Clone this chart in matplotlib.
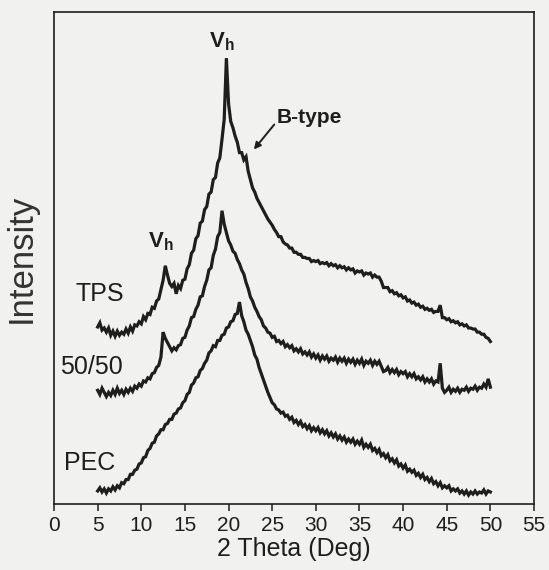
import numpy as np
import matplotlib
matplotlib.use("Agg")
import matplotlib.pyplot as plt

plt.rcParams["font.family"] = ["Liberation Sans", "DejaVu Sans"]
plt.rcParams["mathtext.fontset"] = "custom"
plt.rcParams["mathtext.rm"] = "Liberation Sans"
plt.rcParams["mathtext.bf"] = "Liberation Sans:bold"

# 2 theta scan, 5 to 50 deg, 0.25 deg step
two_theta = np.arange(5.0, 50.001, 0.25)

tps = [
    171, 175, 168, 170, 166, 170, 163, 167, 162, 167, 163, 166,
    164, 169, 165, 171, 167, 173, 172, 176, 174, 181, 178, 184,
    183, 190, 189, 196, 198, 207, 216, 230, 221, 213, 210, 213,
    203, 211, 208, 216, 217, 227, 231, 242, 245, 256, 259, 271,
    273, 284, 287, 299, 301, 313, 315, 329, 334, 352, 371, 430,
    386, 369, 363, 355, 349, 339, 339, 332, 335, 321, 313, 305,
    301, 295, 291, 287, 283, 279, 275, 272, 269, 265, 262, 258,
    258, 253, 251, 250, 247, 247, 243, 243, 241, 241, 238, 238,
    237, 237, 234, 235, 234, 235, 232, 233, 232, 233, 230, 232,
    230, 231, 228, 230, 228, 229, 226, 228, 226, 227, 223, 225,
    224, 225, 221, 223, 222, 223, 219, 221, 219, 219, 215, 209,
    209, 209, 205, 206, 203, 204, 201, 202, 199, 200, 196, 197,
    194, 195, 192, 193, 190, 191, 188, 189, 187, 188, 185, 186,
    186, 192, 180, 180, 178, 179, 176, 177, 175, 176, 173, 174,
    172, 173, 170, 170, 169, 169, 166, 166, 164, 164, 161, 160,
    157,
]

blend_50_50 = [
    110, 106, 112, 108, 104, 108, 105, 110, 106, 112, 107, 110,
    106, 111, 108, 112, 109, 114, 112, 116, 114, 119, 118, 122,
    121, 126, 127, 132, 134, 142, 166, 160, 156, 152, 148, 151,
    149, 153, 154, 160, 161, 168, 172, 180, 181, 188, 192, 200,
    201, 210, 216, 226, 228, 240, 246, 258, 262, 283, 270, 262,
    254, 250, 244, 242, 236, 232, 226, 222, 214, 208, 200, 196,
    190, 186, 181, 178, 172, 170, 166, 165, 161, 162, 157, 158,
    155, 157, 152, 154, 151, 153, 148, 150, 147, 150, 145, 147,
    144, 147, 142, 145, 141, 144, 139, 143, 140, 143, 138, 141,
    139, 142, 137, 141, 138, 141, 136, 140, 137, 140, 135, 139,
    136, 140, 134, 138, 136, 139, 134, 138, 135, 138, 133, 128,
    129, 132, 127, 130, 127, 130, 125, 128, 126, 128, 123, 126,
    123, 126, 121, 123, 120, 123, 118, 121, 118, 121, 116, 119,
    118, 136, 112, 108, 110, 113, 108, 111, 109, 112, 108, 111,
    110, 113, 109, 112, 111, 114, 110, 113, 112, 116, 113, 121,
    113,
]

pec = [
    13, 16, 12, 15, 11, 15, 13, 17, 14, 18, 16, 21,
    20, 24, 24, 29, 29, 33, 34, 39, 40, 45, 46, 52,
    54, 59, 60, 66, 68, 72, 72, 77, 78, 82, 82, 87,
    88, 92, 93, 98, 100, 106, 108, 115, 117, 122, 123, 129,
    131, 136, 139, 146, 148, 153, 152, 158, 158, 163, 164, 170,
    171, 176, 177, 183, 184, 195, 182, 176, 168, 164, 158, 152,
    144, 140, 132, 126, 120, 114, 108, 103, 98, 96, 92, 91,
    88, 89, 85, 86, 82, 84, 79, 81, 77, 80, 75, 77,
    73, 76, 71, 74, 71, 74, 69, 72, 68, 71, 66, 69,
    65, 68, 63, 66, 62, 65, 60, 63, 60, 63, 58, 61,
    58, 62, 55, 58, 55, 58, 52, 54, 50, 53, 47, 49,
    45, 48, 42, 44, 40, 43, 37, 39, 35, 38, 32, 34,
    31, 33, 28, 30, 26, 29, 24, 26, 22, 25, 20, 22,
    18, 21, 16, 18, 16, 18, 13, 15, 13, 15, 11, 13,
    10, 13, 9, 12, 10, 13, 10, 12, 11, 14, 10, 13,
    12,
]

sample_names = ["TPS", "50/50", "PEC"]
x_ticks = list(range(0, 56, 5))

bg = "#f1f1ef"
ink = "#1e1e1e"

fig = plt.figure(figsize=(5.49, 5.70), dpi=100, facecolor=bg)
ax = fig.add_axes([0.0984, 0.115, 0.8743, 0.864], facecolor=bg)

for series in [tps, blend_50_50, pec]:
    ax.plot(two_theta, series, color=ink, lw=2.3, solid_joinstyle="miter")

ax.set_xlim(0, 55)
ax.set_ylim(0, 474.5)
ax.set_xticks(x_ticks)
ax.set_yticks([])
ax.tick_params(axis="x", direction="out", length=5, width=1.1, labelsize=15, pad=3, colors=ink)
for s in ax.spines.values():
    s.set_linewidth(1.2)
    s.set_color(ink)

ax.set_xlabel("2 Theta (Deg)", fontsize=18, labelpad=2, color=ink)
ax.set_ylabel("Intensity", fontsize=25, labelpad=12, color="#333333")

# sample labels
ax.text(5.2, 203, sample_names[0], fontsize=18, ha="center", va="center", color=ink)
ax.text(4.3, 132, sample_names[1], fontsize=18, ha="center", va="center", color=ink)
ax.text(4.1, 40, sample_names[2], fontsize=18, ha="center", va="center", color=ink)

# peak annotations
ax.text(19.2, 446, r"$\mathbf{V_h}$", fontsize=16, ha="center", va="center", color=ink)
ax.text(12.25, 253, r"$\mathbf{V_h}$", fontsize=16, ha="center", va="center", color=ink)
ax.annotate("B-type", xy=(22.9, 342), xytext=(29.3, 373), fontsize=15, fontweight="bold",
            ha="center", va="center", color=ink,
            arrowprops=dict(arrowstyle="-|>", color=ink, lw=1.4, shrinkA=0, shrinkB=0,
                            mutation_scale=10, relpos=(0.0, 0.3)))

fig.savefig("out.png", dpi=100, facecolor=bg)
plt.close(fig)
